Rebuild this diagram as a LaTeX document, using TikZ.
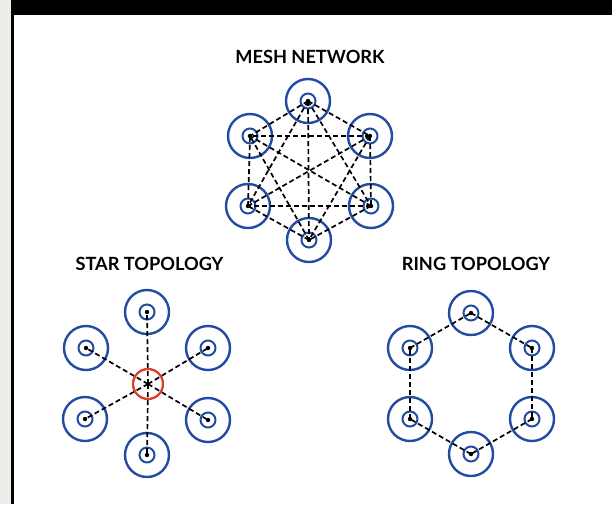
\documentclass[tikz,border=0pt]{standalone}
\usepackage{fontspec}
\setmainfont{Lato}
\usepackage{xcolor}
\usepackage{tikz}
\usetikzlibrary{shapes}
\usetikzlibrary{arrows}
\definecolor{netblue}{RGB}{34,76,162}
\definecolor{hubred}{RGB}{222,62,42}
\definecolor{matte}{RGB}{238,237,232}
\tikzset{
	host/.style={circle,draw=netblue,line width=2.4pt,minimum size=44pt,inner sep=0pt,
		path picture={
			\draw[netblue,line width=2pt] (path picture bounding box.center) circle (7.5pt);
			\fill[black] (path picture bounding box.center) circle (2.2pt);
		}},
	hub/.style={circle,draw=hubred,line width=2pt,minimum size=30pt,inner sep=0pt,fill=white},
	link/.style={draw=black,line width=1.7pt,dash pattern=on 5pt off 3pt},
	title/.style={font=\bfseries\fontsize{18.2}{21}\selectfont,anchor=base}
}

\begin{document}
\begin{tikzpicture}[x=1pt,y=-1pt]

	\fill[matte] (0,0) rectangle (612,504);
	\fill[white] (14,15) rectangle (612,504);
	\fill[black] (11,0) rectangle (612,15);
	\fill[black] (11,0) rectangle (14,504);

	\node[title] (tmesh) at (310,63) {MESH NETWORK};
	\node[title] (tstar) at (149.5,270) {STAR TOPOLOGY};
	\node[title] (tring) at (476,270) {RING TOPOLOGY};

	\node[host] (m1) at (308,101) {};
	\node[host] (m2) at (370,136) {};
	\node[host] (m3) at (371,206) {};
	\node[host] (m4) at (309,240) {};
	\node[host] (m5) at (248,206) {};
	\node[host] (m6) at (250,136) {};

	\node[host] (s1) at (147,312) {};
	\node[host] (s2) at (208,348) {};
	\node[host] (s3) at (208,420) {};
	\node[host] (s4) at (147,455) {};
	\node[host] (s5) at (85,419) {};
	\node[host] (s6) at (86,348) {};
	\node[hub] (s0) at (148,384) {};

	\node[host] (r1) at (471,313) {};
	\node[host] (r2) at (532,348) {};
	\node[host] (r3) at (532,419) {};
	\node[host] (r4) at (471,454) {};
	\node[host] (r5) at (410,419) {};
	\node[host] (r6) at (410,348) {};

	\path[link]
	  (m1.center) edge (m2.center)
	              edge (m3.center)
	              edge (m4.center)
	              edge (m5.center)
	              edge (m6.center)
	  (m2.center) edge (m3.center)
	              edge (m4.center)
	              edge (m5.center)
	              edge (m6.center)
	  (m3.center) edge (m4.center)
	              edge (m5.center)
	              edge (m6.center)
	  (m4.center) edge (m5.center)
	              edge (m6.center)
	  (m5.center) edge (m6.center);

	\path[link]
	  (s0.center) edge (s1.center)
	              edge (s2.center)
	              edge (s3.center)
	              edge (s4.center)
	              edge (s5.center)
	              edge (s6.center);
	\node[hub,fill=none] (s0r) at (s0) {};

	\path[link]
	  (r1.center) edge (r2.center)
	  (r2.center) edge (r3.center)
	  (r3.center) edge (r4.center)
	  (r4.center) edge (r5.center)
	  (r5.center) edge (r6.center)
	  (r6.center) edge (r1.center);
\end{tikzpicture}
\end{document}
